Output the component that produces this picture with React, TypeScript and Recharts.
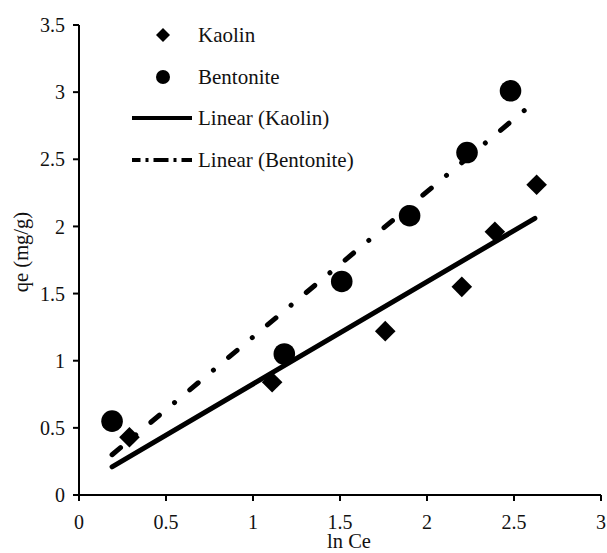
import React from 'react';
import { ComposedChart, Scatter, Line, XAxis, YAxis, Legend, Label } from 'recharts';

const kaolinX = [0.29, 1.11, 1.76, 2.2, 2.39, 2.63];
const kaolinY = [0.43, 0.84, 1.22, 1.55, 1.96, 2.31];
const bentoniteX = [0.19, 1.18, 1.51, 1.9, 2.23, 2.48];
const bentoniteY = [0.55, 1.05, 1.59, 2.08, 2.55, 3.01];

const kaolinTrendX = [0.19, 2.62];
const kaolinTrendY = [0.21, 2.06];
const bentoniteTrendX = [0.19, 2.565];
const bentoniteTrendY = [0.3, 2.87];

const xTicks = [0, 0.5, 1, 1.5, 2, 2.5, 3];
const yTicks = [0, 0.5, 1, 1.5, 2, 2.5, 3, 3.5];
const legendNames = ['Kaolin', 'Bentonite', 'Linear (Kaolin)', 'Linear (Bentonite)'];

const toPts = (xs: number[], ys: number[]) => xs.map((x, i) => ({ x, y: ys[i] }));
const kaolinData = toPts(kaolinX, kaolinY);
const bentoniteData = toPts(bentoniteX, bentoniteY);
const kaolinTrend = toPts(kaolinTrendX, kaolinTrendY);
const bentoniteTrend = toPts(bentoniteTrendX, bentoniteTrendY);

const FONT = "'Liberation Serif', 'Times New Roman', Times, serif";
const TEXT = '#111';

const DiamondShape = (props: any) => {
  const { cx, cy } = props;
  const r = 10.3;
  return <path d={`M${cx},${cy - r}L${cx + r},${cy}L${cx},${cy + r}L${cx - r},${cy}Z`} fill="#000" />;
};
const CircleShape = (props: any) => <circle cx={props.cx} cy={props.cy} r={10.8} fill="#000" />;

const renderLegend = () => {
  const rowY = [25, 67, 108, 150];
  const iconX = 43;
  return (
    <svg width={260} height={170} style={{ display: 'block' }}>
      <path d={`M${iconX},${rowY[0] - 7}L${iconX + 7},${rowY[0]}L${iconX},${rowY[0] + 7}L${iconX - 7},${rowY[0]}Z`} fill="#000" />
      <circle cx={iconX} cy={rowY[1]} r={7} fill="#000" />
      <line x1={12} x2={72} y1={rowY[2]} y2={rowY[2]} stroke="#000" strokeWidth={4} />
      <line x1={12} x2={72} y1={rowY[3]} y2={rowY[3]} stroke="#000" strokeWidth={4} strokeDasharray="15 5 3 5" strokeDashoffset={6.5} />
      {legendNames.map((n, i) => (
        <text key={n} x={78} y={rowY[i] + 7} style={{ fontFamily: FONT }} fontSize={21} fill={TEXT}>
          {n}
        </text>
      ))}
    </svg>
  );
};

const YLabel = (props: any) => {
  const vb = props.viewBox;
  const cx = vb.x - 8;
  const cy = vb.y + vb.height / 2 - 8;
  return (
    <text x={cx} y={cy} transform={`rotate(-90 ${cx} ${cy})`} textAnchor="middle" dominantBaseline="central" style={{ fontFamily: FONT }} fontSize={20.5} fill={TEXT}>
      qe (mg/g)
    </text>
  );
};

const XLabel = (props: any) => {
  const vb = props.viewBox;
  return (
    <text x={vb.x + vb.width / 2 + 9} y={vb.y + 53} textAnchor="middle" style={{ fontFamily: FONT }} fontSize={20.5} fill={TEXT}>
      ln Ce
    </text>
  );
};

export default function App() {
  return (
    <div style={{ position: 'absolute', left: 0, top: 0, width: 607, height: 553, background: '#fff', fontFamily: FONT }}>
      <ComposedChart width={607} height={553} margin={{ top: 25, right: 6, left: 29, bottom: 18 }} style={{ fontFamily: FONT }}>
        <XAxis
          type="number"
          dataKey="x"
          domain={[0, 3]}
          ticks={xTicks}
          height={40}
          stroke="#000"
          strokeWidth={2}
          tickSize={6}
          tickMargin={14}
          tick={{ fill: TEXT, fontSize: 20, fontFamily: FONT }}
          tickLine={{ stroke: '#000', strokeWidth: 2 }}
          allowDataOverflow
        >
          <Label content={XLabel} />
        </XAxis>
        <YAxis
          type="number"
          dataKey="y"
          domain={[0, 3.5]}
          ticks={yTicks}
          width={50}
          stroke="#000"
          strokeWidth={2}
          tickSize={6}
          tickMargin={8}
          tick={{ fill: TEXT, fontSize: 20, fontFamily: FONT }}
          tickLine={{ stroke: '#000', strokeWidth: 2 }}
          allowDataOverflow
        >
          <Label content={YLabel} />
        </YAxis>
        <Legend
          layout="horizontal"
          verticalAlign="middle"
          align="center"
          wrapperStyle={{ left: 120, top: 10, width: 260, height: 170 }}
          content={renderLegend}
        />
        <Line
          data={kaolinTrend}
          dataKey="y"
          type="linear"
          stroke="#000"
          strokeWidth={5}
          strokeLinecap="round"
          dot={false}
          activeDot={false}
          legendType="none"
          isAnimationActive={false}
        />
        <Line
          data={bentoniteTrend}
          dataKey="y"
          type="linear"
          stroke="#000"
          strokeWidth={5}
          strokeLinecap="round"
          strokeDasharray="11 19.8 0.01 19.8"
          dot={false}
          activeDot={false}
          legendType="none"
          isAnimationActive={false}
        />
        <Scatter data={kaolinData} dataKey="y" shape={DiamondShape} isAnimationActive={false} />
        <Scatter data={bentoniteData} dataKey="y" shape={CircleShape} isAnimationActive={false} />
      </ComposedChart>
    </div>
  );
}
